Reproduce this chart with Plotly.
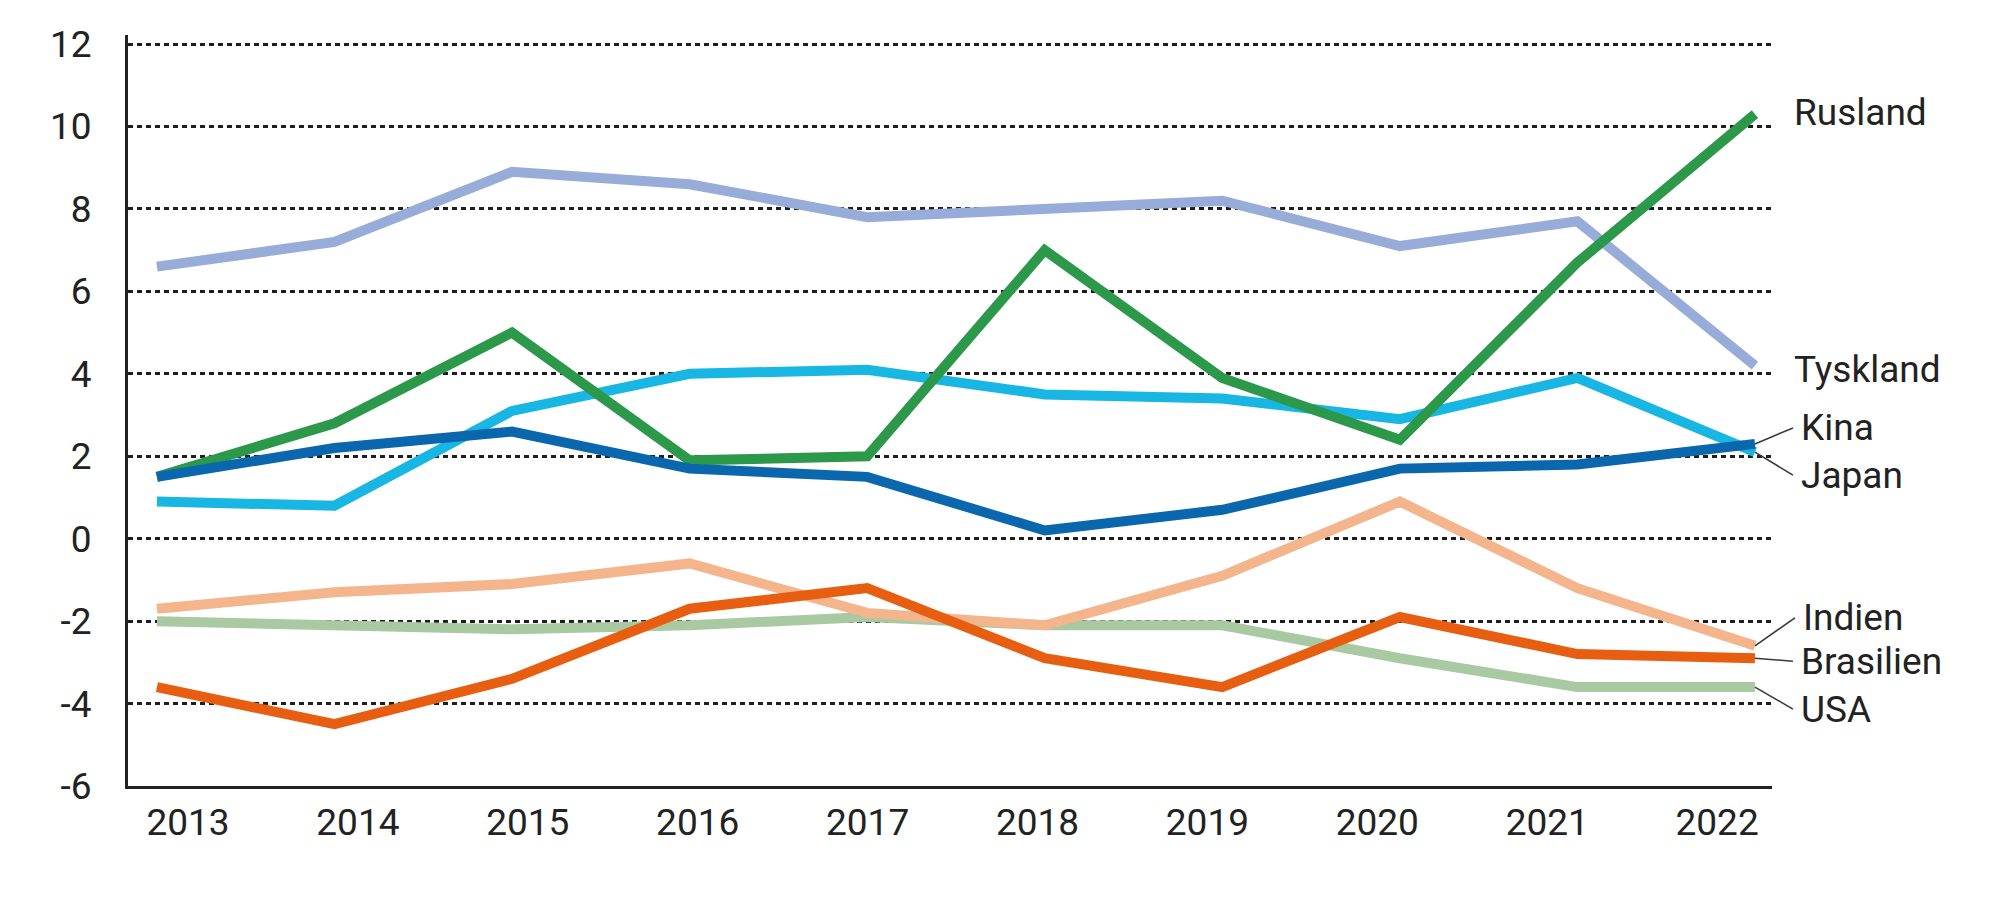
import plotly.graph_objects as go

years = [2013, 2014, 2015, 2016, 2017, 2018, 2019, 2020, 2021, 2022]

usa = [-2.0, -2.1, -2.2, -2.1, -1.9, -2.1, -2.1, -2.9, -3.6, -3.6]
indien = [-1.7, -1.3, -1.1, -0.6, -1.8, -2.1, -0.9, 0.9, -1.2, -2.6]
brasilien = [-3.6, -4.5, -3.4, -1.7, -1.2, -2.9, -3.6, -1.9, -2.8, -2.9]
japan = [0.9, 0.8, 3.1, 4.0, 4.1, 3.5, 3.4, 2.9, 3.9, 2.1]
tyskland = [6.6, 7.2, 8.9, 8.6, 7.8, 8.0, 8.2, 7.1, 7.7, 4.2]
rusland = [1.5, 2.8, 5.0, 1.9, 2.0, 7.0, 3.9, 2.4, 6.7, 10.3]
kina = [1.5, 2.2, 2.6, 1.7, 1.5, 0.2, 0.7, 1.7, 1.8, 2.3]

y_ticks = [-6, -4, -2, 0, 2, 4, 6, 8, 10, 12]
y_ticktext = ["-6", "-4", "-2", "0", "2", "4", "6", "8", "10", "12"]

# draw order: first one ends up at the bottom
series = [
    ("USA", usa, "#a9c9a2"),
    ("Indien", indien, "#f5b58c"),
    ("Brasilien", brasilien, "#e85e10"),
    ("Japan", japan, "#17b6e3"),
    ("Tyskland", tyskland, "#97acd9"),
    ("Rusland", rusland, "#2b984a"),
    ("Kina", kina, "#0a67ae"),
]

font = "Roboto, 'Noto Sans', sans-serif"

fig = go.Figure()
for name, values, color in series:
    fig.add_trace(
        go.Scatter(
            x=years,
            y=values,
            mode="lines",
            name=name,
            line=dict(color=color, width=10),
        )
    )

# empty trace so the label axis (x2) gets drawn
fig.add_trace(
    go.Scatter(x=[], y=[], xaxis="x2", yaxis="y", mode="lines",
               showlegend=False, hoverinfo="skip")
)

# end labels: (name, series, x offset px, y offset px, leader line?)
labels = [
    ("Rusland", rusland, 37, -2, False),
    ("Tyskland", tyskland, 37, 4, False),
    ("Kina", kina, 38, -16, True),
    ("Japan", japan, 38, 23, True),
    ("Indien", indien, 40, -28, True),
    ("Brasilien", brasilien, 38, 3, True),
    ("USA", usa, 38, 22, True),
]
for text, values, dx, dy, leader in labels:
    if leader:
        fig.add_annotation(
            x=years[-1], y=values[-1], text=text,
            showarrow=True, arrowhead=0, arrowwidth=1.6, arrowcolor="#3a3a3a",
            ax=dx, ay=dy, xanchor="left", yanchor="middle", borderpad=7,
            font=dict(family=font, size=37, color="#222222"),
        )
    else:
        fig.add_annotation(
            x=years[-1], y=values[-1], text=text,
            showarrow=False, xshift=dx, yshift=-dy, xanchor="left", yanchor="middle",
            font=dict(family=font, size=37, color="#222222"),
        )

fig.update_layout(
    width=2000,
    height=899,
    margin=dict(l=120, r=236, t=27, b=121),
    paper_bgcolor="white",
    plot_bgcolor="white",
    showlegend=False,
    font=dict(family=font, size=37, color="#222222"),
    xaxis=dict(
        range=[2012.837, 2022.096],
        showticklabels=False,
        showgrid=False,
        zeroline=False,
        showline=True,
        linecolor="#222222",
        linewidth=3,
        ticks="",
    ),
    # year labels sit a little inside the ends, like the original layout
    xaxis2=dict(
        overlaying="x",
        anchor="y",
        side="bottom",
        range=[2012.647, 2022.323],
        tickvals=years,
        ticktext=[str(y) for y in years],
        showgrid=False,
        zeroline=False,
        showline=False,
        ticks="",
        ticklabelstandoff=11,
    ),
    yaxis=dict(
        range=[-6, 12.22],
        tickvals=y_ticks,
        ticktext=y_ticktext,
        showgrid=True,
        gridcolor="#1e1e1e",
        gridwidth=2.8,
        griddash="5px,4px",
        zeroline=False,
        showline=True,
        linecolor="#222222",
        linewidth=3,
        ticks="",
        ticklabelstandoff=26,
    ),
)

fig.write_html("out.html")
